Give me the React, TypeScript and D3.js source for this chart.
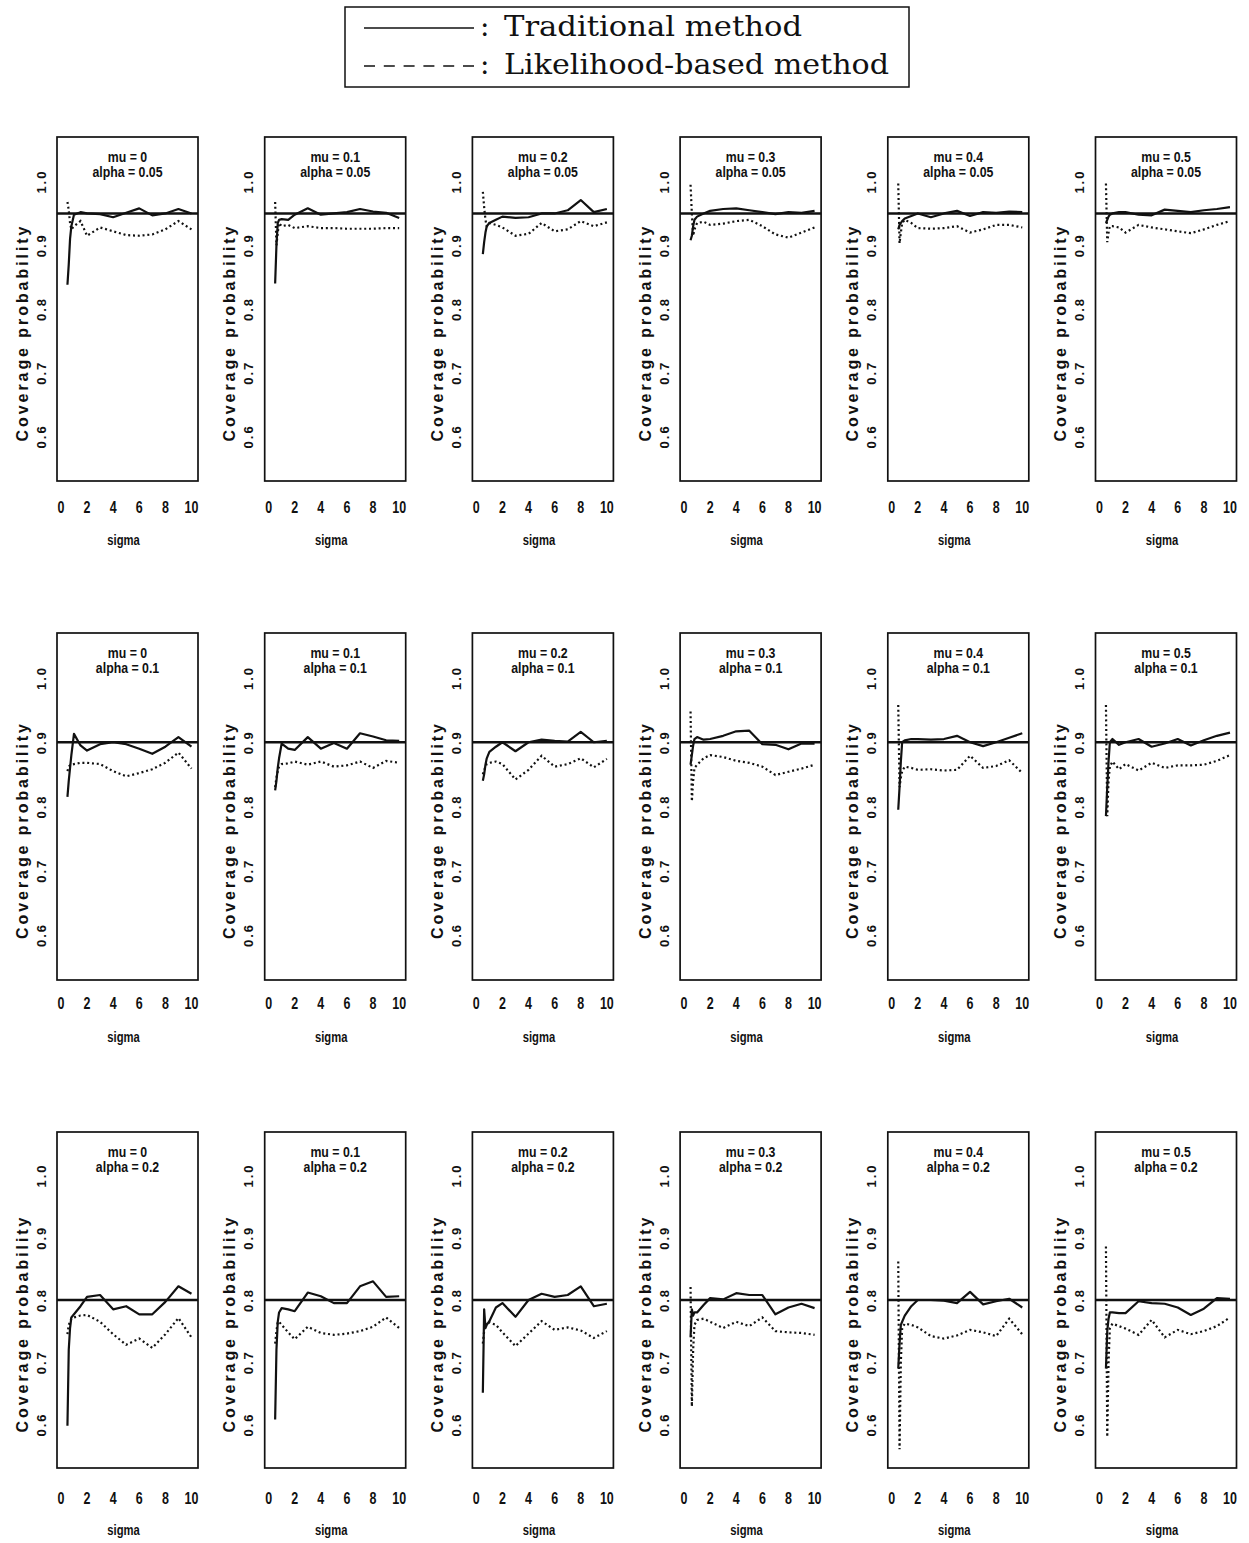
import React from 'react';
import * as d3 from 'd3';

// sigma grid shared by every panel
const SIGMA = [0.5, 0.6, 0.7, 0.8, 1, 1.5, 2, 3, 4, 5, 6, 7, 8, 9, 10];

const MU_LABELS = ['0', '0.1', '0.2', '0.3', '0.4', '0.5'];
const ALPHA = [0.05, 0.1, 0.2];
const ALPHA_LABELS = ['0.05', '0.1', '0.2'];

const Y_TICKS = [0.6, 0.7, 0.8, 0.9, 1.0];
const Y_TICK_LABELS = ['0.6', '0.7', '0.8', '0.9', '1.0'];
const X_TICKS = [0, 2, 4, 6, 8, 10];

// coverage probability, traditional method (one row per mu)
const TRAD_A05 = [
  [0.838, 0.87, 0.91, 0.93, 0.948, 0.952, 0.95, 0.949, 0.944, 0.951, 0.958, 0.947, 0.95, 0.957, 0.95],
  [0.84, 0.9, 0.935, 0.94, 0.941, 0.94, 0.948, 0.958, 0.948, 0.95, 0.952, 0.957, 0.953, 0.951, 0.943],
  [0.886, 0.905, 0.92, 0.93, 0.935, 0.94, 0.945, 0.943, 0.944, 0.95, 0.95, 0.955, 0.971, 0.952, 0.957],
  [0.908, 0.915, 0.93, 0.94, 0.945, 0.95, 0.954, 0.957, 0.958, 0.955, 0.952, 0.949, 0.952, 0.951, 0.954],
  [0.925, 0.932, 0.935, 0.938, 0.942, 0.946, 0.95, 0.944, 0.95, 0.954, 0.946, 0.952, 0.951, 0.953, 0.952],
  [0.935, 0.94, 0.945, 0.948, 0.95, 0.952, 0.952, 0.948, 0.947, 0.956, 0.954, 0.952, 0.955, 0.957, 0.96],
];
const TRAD_A10 = [
  [0.815, 0.84, 0.86, 0.88, 0.913, 0.895, 0.887, 0.897, 0.9, 0.897, 0.89, 0.882, 0.893, 0.908, 0.893],
  [0.825, 0.84, 0.86, 0.875, 0.898, 0.89, 0.888, 0.908, 0.89, 0.899, 0.89, 0.914, 0.909, 0.903, 0.902],
  [0.84, 0.85, 0.865, 0.875, 0.885, 0.893, 0.9, 0.886, 0.9, 0.904, 0.902, 0.901, 0.916, 0.9, 0.902],
  [0.865, 0.88, 0.895, 0.905, 0.908, 0.904, 0.905, 0.91, 0.917, 0.918, 0.897, 0.896, 0.889, 0.898, 0.898],
  [0.795, 0.83, 0.87, 0.9, 0.903, 0.905, 0.905, 0.904, 0.905, 0.91, 0.9, 0.894, 0.9, 0.907, 0.914],
  [0.785, 0.83, 0.87, 0.9, 0.905, 0.896, 0.9, 0.905, 0.893, 0.898, 0.905, 0.895, 0.903, 0.91, 0.915],
];
const TRAD_A20 = [
  [0.598, 0.72, 0.755, 0.772, 0.777, 0.79, 0.805, 0.808, 0.785, 0.79, 0.777, 0.777, 0.797, 0.822, 0.81],
  [0.608, 0.72, 0.765, 0.78, 0.787, 0.785, 0.782, 0.812, 0.806, 0.795, 0.795, 0.822, 0.83, 0.805, 0.806],
  [0.651, 0.785, 0.755, 0.76, 0.766, 0.788, 0.795, 0.773, 0.8, 0.81, 0.805, 0.808, 0.822, 0.79, 0.794],
  [0.74, 0.785, 0.775, 0.78, 0.78, 0.792, 0.803, 0.801, 0.811, 0.808, 0.808, 0.777, 0.788, 0.794, 0.787],
  [0.69, 0.73, 0.76, 0.765, 0.775, 0.79, 0.8, 0.8, 0.799, 0.795, 0.813, 0.793, 0.798, 0.802, 0.788],
  [0.69, 0.75, 0.77, 0.78, 0.78, 0.779, 0.779, 0.798, 0.795, 0.794, 0.788, 0.776, 0.786, 0.803, 0.802],
];

// coverage probability, likelihood-based method (one row per mu)
const LIK_A05 = [
  [0.968, 0.955, 0.935, 0.925, 0.93, 0.938, 0.915, 0.928, 0.922, 0.916, 0.915, 0.917, 0.925, 0.938, 0.925],
  [0.968, 0.9, 0.92, 0.935, 0.93, 0.932, 0.927, 0.93, 0.927, 0.927, 0.926, 0.926, 0.926, 0.927, 0.927],
  [0.984, 0.96, 0.94, 0.93, 0.935, 0.932, 0.928, 0.915, 0.918, 0.935, 0.922, 0.925, 0.938, 0.93, 0.936],
  [0.995, 0.95, 0.915, 0.925, 0.935, 0.937, 0.932, 0.934, 0.938, 0.94, 0.93, 0.917, 0.912, 0.92, 0.928],
  [0.997, 0.903, 0.92, 0.935, 0.94, 0.935, 0.927, 0.926, 0.927, 0.93, 0.92, 0.925, 0.932, 0.932, 0.928],
  [0.997, 0.905, 0.92, 0.93, 0.93, 0.928, 0.92, 0.932, 0.928, 0.925, 0.922, 0.919, 0.925, 0.932, 0.938],
];
const LIK_A10 = [
  [0.855, 0.862, 0.864, 0.865, 0.866, 0.868, 0.868, 0.866, 0.855, 0.847, 0.852, 0.858, 0.868, 0.884, 0.859],
  [0.83, 0.845, 0.855, 0.862, 0.866, 0.867, 0.87, 0.865, 0.87, 0.862, 0.864, 0.87, 0.86, 0.871, 0.868],
  [0.85, 0.856, 0.862, 0.866, 0.868, 0.87, 0.866, 0.842, 0.857, 0.879, 0.862, 0.866, 0.875, 0.861, 0.874],
  [0.948, 0.808, 0.84, 0.86, 0.865, 0.875, 0.88, 0.877, 0.871, 0.868, 0.862, 0.849, 0.854, 0.859, 0.865],
  [0.958, 0.83, 0.845, 0.855, 0.862, 0.86, 0.857, 0.858, 0.856, 0.857, 0.879, 0.86, 0.863, 0.872, 0.852],
  [0.958, 0.785, 0.84, 0.862, 0.87, 0.858, 0.866, 0.856, 0.868, 0.86, 0.864, 0.864, 0.865, 0.871, 0.88],
];
const LIK_A20 = [
  [0.745, 0.76, 0.765, 0.77, 0.772, 0.775, 0.776, 0.765, 0.745, 0.728, 0.738, 0.723, 0.745, 0.771, 0.74],
  [0.73, 0.75, 0.765, 0.765, 0.76, 0.748, 0.737, 0.757, 0.747, 0.744, 0.746, 0.75, 0.757, 0.772, 0.755],
  [0.73, 0.75, 0.762, 0.765, 0.764, 0.76, 0.748, 0.726, 0.746, 0.766, 0.752, 0.756, 0.751, 0.739, 0.75],
  [0.821, 0.629, 0.72, 0.76, 0.768, 0.77, 0.765, 0.755, 0.765, 0.758, 0.772, 0.75, 0.748, 0.747, 0.744],
  [0.862, 0.56, 0.7, 0.755, 0.762, 0.76, 0.756, 0.742, 0.738, 0.743, 0.752, 0.748, 0.742, 0.77, 0.745],
  [0.886, 0.58, 0.7, 0.755, 0.762, 0.758, 0.754, 0.744, 0.768, 0.74, 0.752, 0.745, 0.75, 0.758, 0.772],
];

const TRAD = [TRAD_A05, TRAD_A10, TRAD_A20];
const LIK = [LIK_A05, LIK_A10, LIK_A20];

const W = 1249;
const H = 1543;
const COL_LEFT0 = 57;
const COL_STEP = 207.7;
const PANEL_W = 141;
const ROW_TOP = [137, 633, 1132];
const ROW_BOTTOM = [481, 980, 1468];
const XTICK_Y = [507, 1003, 1498];
const XLAB_Y = [540, 1037, 1530];

const SANS = "'Liberation Sans', Arial, Helvetica, sans-serif";
const SERIF = "'DejaVu Serif', 'Liberation Serif', serif";
const INK = '#111';

// horizontally compressed sans text, centred on (x, y)
function NarrowText({ x, y, size, sx, children }: { x: number; y: number; size: number; sx: number; children: React.ReactNode }) {
  return (
    <text
      transform={`translate(${x},${y}) scale(${sx},1)`}
      textAnchor="middle"
      dominantBaseline="central"
      fontFamily={SANS}
      fontSize={size}
      fontWeight="bold"
      fill={INK}
    >
      {children}
    </text>
  );
}

function Panel({ row, col }: { row: number; col: number }) {
  const left = COL_LEFT0 + col * COL_STEP;
  const right = left + PANEL_W;
  const top = ROW_TOP[row];
  const bottom = ROW_BOTTOM[row];
  const x = d3.scaleLinear().domain([-0.3, 10.5]).range([left, right]);
  const y = d3.scaleLinear().domain([0.53, 1.07]).range([bottom, top]);
  const line = d3
    .line<number>()
    .x((_, i) => x(SIGMA[i]))
    .y((d) => y(d));
  const cx = (left + right) / 2;
  const nominal = 1 - ALPHA[row];

  return (
    <g>
      <rect x={left} y={top} width={PANEL_W} height={bottom - top} fill="none" stroke={INK} strokeWidth={1.7} />
      <NarrowText x={cx} y={top + 20} size={14} sx={0.88}>{`mu = ${MU_LABELS[col]}`}</NarrowText>
      <NarrowText x={cx} y={top + 35} size={14} sx={0.88}>{`alpha = ${ALPHA_LABELS[row]}`}</NarrowText>
      <line x1={left} x2={right} y1={y(nominal)} y2={y(nominal)} stroke={INK} strokeWidth={2.5} />
      <path d={line(LIK[row][col]) || ''} fill="none" stroke={INK} strokeWidth={2.2} strokeDasharray="2 2.8" />
      <path d={line(TRAD[row][col]) || ''} fill="none" stroke={INK} strokeWidth={2.2} strokeLinejoin="round" />
      {Y_TICKS.map((t, i) => (
        <text
          key={`y${i}`}
          transform={`translate(${left - 16},${y(t)}) rotate(-90)`}
          textAnchor="middle"
          dominantBaseline="central"
          fontFamily={SANS}
          fontSize={13}
          fontWeight="bold"
          letterSpacing={2}
          fill={INK}
        >
          {Y_TICK_LABELS[i]}
        </text>
      ))}
      <text
        transform={`translate(${left - 35},${(top + bottom) / 2 + 25}) rotate(-90)`}
        textAnchor="middle"
        dominantBaseline="central"
        fontFamily={SANS}
        fontSize={16}
        fontWeight="bold"
        textLength={215}
        lengthAdjust="spacing"
        fill={INK}
      >
        Coverage probability
      </text>
      {X_TICKS.map((t) => (
        <NarrowText key={`x${t}`} x={x(t)} y={XTICK_Y[row]} size={16} sx={0.78}>
          {t}
        </NarrowText>
      ))}
      <NarrowText x={cx - 4} y={XLAB_Y[row]} size={15} sx={0.75}>
        sigma
      </NarrowText>
    </g>
  );
}

function Legend() {
  return (
    <g>
      <rect x={345} y={7} width={564} height={80} fill="none" stroke={INK} strokeWidth={1.5} />
      <line x1={364} x2={474} y1={28} y2={28} stroke={INK} strokeWidth={1.6} />
      <text x={480} y={36} fontFamily={SERIF} fontSize={28} fill={INK}>:</text>
      <text x={504} y={36} fontFamily={SERIF} fontSize={28} fill={INK} textLength={298} lengthAdjust="spacingAndGlyphs">
        Traditional method
      </text>
      <line x1={364} x2={474} y1={66} y2={66} stroke={INK} strokeWidth={1.6} strokeDasharray="11 8.8" />
      <text x={480} y={74} fontFamily={SERIF} fontSize={28} fill={INK}>:</text>
      <text x={504} y={74} fontFamily={SERIF} fontSize={28} fill={INK} textLength={385} lengthAdjust="spacingAndGlyphs">
        Likelihood-based method
      </text>
    </g>
  );
}

export default function App() {
  const rows = [0, 1, 2];
  const cols = [0, 1, 2, 3, 4, 5];
  return (
    <svg
      width={W}
      height={H}
      viewBox={`0 0 ${W} ${H}`}
      style={{ position: 'absolute', left: 0, top: 0, display: 'block', background: '#fff' }}
    >
      <rect x={0} y={0} width={W} height={H} fill="#fff" />
      <Legend />
      {rows.map((r) => cols.map((c) => <Panel key={`${r}-${c}`} row={r} col={c} />))}
    </svg>
  );
}
